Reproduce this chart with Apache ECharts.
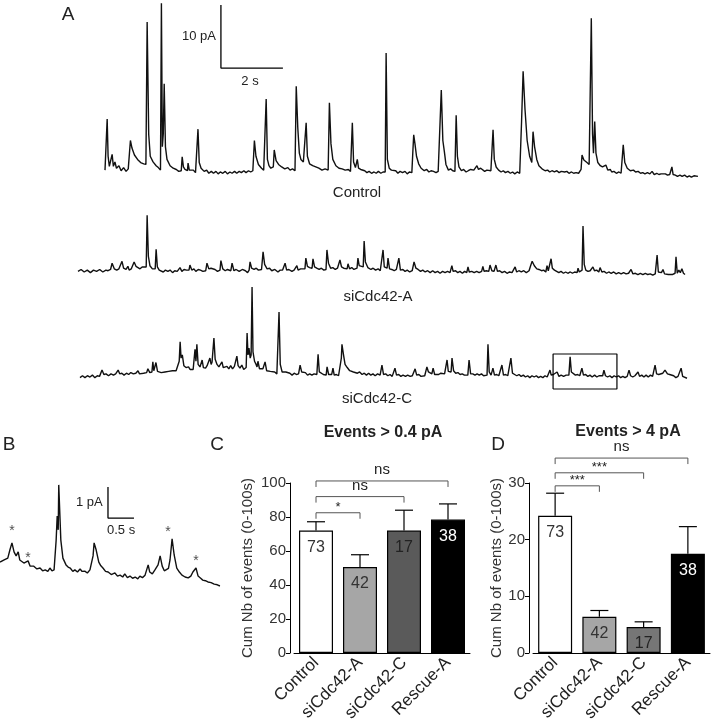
<!DOCTYPE html>
<html><head><meta charset="utf-8">
<script src="https://cdn.jsdelivr.net/npm/echarts@6/dist/echarts.min.js"></script>
<style>html,body{margin:0;padding:0;background:#fff}#c{width:713px;height:724px}</style>
</head><body><div id="c"></div>
<script>
// ---------- DATA ----------
// Traces: [time (s), current (pA, upward deflection)]
const controlTrace = [[0,0.3],[0.05,0.5],[0.07,8.4],[0.1,2.5],[0.14,0.9],[0.19,0.6],[0.23,2.8],[0.27,0.9],[0.32,1.6],[0.37,0.6],[0.45,1.0],[0.52,0.2],[0.6,0.7],[0.68,0.1],[0.75,0.5],[0.78,0.6],[0.82,5.0],[0.87,3.8],[0.95,2.7],[1.05,2.0],[1.15,1.5],[1.25,1.3],[1.32,1.2],[1.36,23.8],[1.41,6.0],[1.46,2.5],[1.55,1.6],[1.65,1.0],[1.72,0.7],[1.79,0.3],[1.82,26.8],[1.85,4.0],[1.88,6.0],[1.91,14.0],[1.95,4.0],[2.0,2.0],[2.1,1.0],[2.2,0.6],[2.3,0.4],[2.38,0.1],[2.46,0.2],[2.49,2.4],[2.53,0.8],[2.58,0.4],[2.62,0.7],[2.66,0.2],[2.68,1.4],[2.72,0.3],[2.78,0.1],[2.85,0.3],[2.92,-0.1],[2.98,0.1],[3.0,6.8],[3.04,1.5],[3.1,0.6],[3.2,0.1],[3.28,0.3],[3.35,-0.2],[3.43,0.1],[3.5,-0.2],[3.58,0.1],[3.65,-0.3],[3.72,0.0],[3.8,-0.2],[3.88,0.1],[3.95,-0.3],[4.03,0.0],[4.1,-0.2],[4.18,0.1],[4.25,-0.2],[4.33,0.1],[4.4,-0.1],[4.48,0.2],[4.55,-0.1],[4.63,0.2],[4.7,0.0],[4.77,0.2],[4.82,5.0],[4.87,2.5],[4.95,1.2],[5.05,0.6],[5.12,0.3],[5.17,0.4],[5.2,11.6],[5.24,2.0],[5.29,1.0],[5.35,0.6],[5.43,0.8],[5.46,3.5],[5.52,1.8],[5.6,1.2],[5.7,0.8],[5.8,0.5],[5.9,0.7],[5.97,0.3],[6.05,0.5],[6.13,0.2],[6.17,13.6],[6.22,7.0],[6.27,3.0],[6.32,2.0],[6.4,1.6],[6.46,1.6],[6.49,7.8],[6.53,2.5],[6.6,1.3],[6.7,1.0],[6.8,0.8],[6.9,0.6],[7.0,0.3],[7.1,0.5],[7.15,0.2],[7.2,0.3],[7.24,11.0],[7.29,4.5],[7.35,2.0],[7.45,1.0],[7.55,0.6],[7.65,0.5],[7.75,0.3],[7.85,0.4],[7.92,0.1],[7.95,0.1],[7.98,7.8],[8.02,1.6],[8.08,0.7],[8.11,0.5],[8.14,2.0],[8.18,0.6],[8.25,0.4],[8.3,0.1],[8.38,0.2],[8.45,-0.1],[8.52,0.1],[8.6,-0.2],[8.68,0.0],[8.75,-0.2],[8.82,0.1],[8.9,-0.2],[8.97,0.0],[9.04,0.0],[9.07,18.9],[9.11,2.0],[9.17,0.6],[9.24,0.3],[9.3,0.0],[9.38,0.2],[9.45,-0.2],[9.52,0.1],[9.6,-0.1],[9.68,0.1],[9.75,-0.3],[9.82,0.0],[9.9,-0.1],[9.93,3.0],[9.96,5.9],[10.0,4.5],[10.05,2.5],[10.12,1.3],[10.2,0.6],[10.3,0.2],[10.38,0.4],[10.45,0.0],[10.52,0.2],[10.6,0.1],[10.68,-0.1],[10.75,0.1],[10.81,0.0],[10.85,13.0],[10.9,5.0],[10.95,3.2],[11.0,1.2],[11.08,0.3],[11.15,0.5],[11.22,0.2],[11.29,0.1],[11.33,9.0],[11.37,2.5],[11.42,0.8],[11.5,0.2],[11.57,0.4],[11.65,0.0],[11.72,0.2],[11.8,0.4],[11.9,0.3],[11.96,0.6],[12.0,1.0],[12.05,0.4],[12.12,0.6],[12.18,0.3],[12.25,0.1],[12.32,0.3],[12.38,0.0],[12.45,0.2],[12.49,0.0],[12.52,6.7],[12.56,2.0],[12.62,0.8],[12.7,0.3],[12.78,0.0],[12.85,0.2],[12.92,-0.1],[13.0,0.1],[13.08,-0.2],[13.15,0.0],[13.22,-0.3],[13.3,0.0],[13.38,-0.2],[13.41,0.0],[13.44,8.0],[13.49,16.0],[13.55,10.0],[13.62,5.0],[13.7,2.5],[13.77,1.5],[13.81,6.4],[13.86,4.0],[13.93,2.0],[14.0,1.0],[14.1,0.5],[14.2,0.2],[14.28,0.3],[14.35,0.0],[14.42,0.2],[14.5,0.0],[14.58,0.2],[14.65,-0.1],[14.72,0.1],[14.77,0.4],[14.83,0.0],[14.9,0.1],[14.97,-0.2],[15.05,0.0],[15.12,-0.2],[15.2,-0.1],[15.28,-0.2],[15.33,0.0],[15.36,0.4],[15.39,2.7],[15.45,1.9],[15.55,1.5],[15.62,1.2],[15.66,1.5],[15.69,24.4],[15.73,6.0],[15.76,3.0],[15.8,8.0],[15.84,3.0],[15.9,1.5],[15.98,1.0],[16.05,0.8],[16.1,0.6],[16.16,1.1],[16.22,0.3],[16.3,0.4],[16.35,0.0],[16.42,0.1],[16.5,-0.2],[16.58,0.0],[16.65,-0.2],[16.69,-0.1],[16.72,4.3],[16.77,1.5],[16.85,0.6],[16.95,0.2],[17.05,0.3],[17.12,0.0],[17.2,0.1],[17.28,-0.2],[17.35,-0.1],[17.42,-0.3],[17.5,-0.1],[17.58,-0.3],[17.65,0.1],[17.72,-0.4],[17.8,-0.2],[17.87,-0.4],[17.94,-0.3],[18.0,-0.5],[18.08,-0.3],[18.15,-0.5],[18.22,-0.4],[18.27,-0.5],[18.29,0.8],[18.33,-0.4],[18.4,-0.5],[18.47,-0.7],[18.55,-0.5],[18.62,-0.7],[18.7,-0.5],[18.78,-0.8],[18.85,-0.6],[18.92,-0.8],[19.0,-0.6],[19.06,-0.9],[19.13,-0.7]];

const siCdc42ATrace = [[0,0.1],[0.1,0.4],[0.2,0.0],[0.3,0.3],[0.4,-0.1],[0.5,0.3],[0.6,0.1],[0.7,0.4],[0.8,0.0],[0.9,0.3],[0.97,0.2],[1.05,0.4],[1.1,1.4],[1.17,0.5],[1.25,0.3],[1.32,0.5],[1.38,0.3],[1.42,1.7],[1.47,0.6],[1.55,0.4],[1.61,0.9],[1.65,0.3],[1.72,0.5],[1.77,0.6],[1.81,1.6],[1.87,0.9],[1.93,0.8],[2.0,0.5],[2.07,0.8],[2.13,0.6],[2.2,0.8],[2.23,9.0],[2.27,2.5],[2.32,1.0],[2.4,0.5],[2.45,0.7],[2.49,0.5],[2.52,3.6],[2.56,0.8],[2.62,0.3],[2.68,0.5],[2.75,0.0],[2.82,0.3],[2.9,0.1],[2.97,0.3],[3.05,-0.1],[3.12,0.2],[3.2,0.1],[3.29,0.7],[3.35,0.1],[3.42,0.4],[3.5,0.3],[3.58,0.3],[3.61,1.1],[3.67,0.3],[3.74,0.5],[3.8,0.1],[3.88,0.4],[3.95,0.3],[4.03,0.1],[4.12,0.2],[4.16,1.4],[4.22,0.5],[4.29,0.6],[4.35,0.3],[4.42,0.4],[4.5,0.1],[4.58,0.3],[4.61,1.8],[4.67,0.5],[4.75,0.2],[4.82,0.4],[4.88,0.1],[4.93,0.2],[4.97,1.4],[5.03,0.2],[5.1,0.4],[5.2,0.1],[5.3,0.4],[5.4,0.2],[5.47,-0.1],[5.52,0.3],[5.55,1.6],[5.6,0.6],[5.68,0.4],[5.75,0.6],[5.82,0.3],[5.88,0.5],[5.92,0.4],[5.97,3.2],[6.02,1.2],[6.1,0.5],[6.18,0.6],[6.25,0.2],[6.35,0.4],[6.45,0.0],[6.52,0.3],[6.6,0.3],[6.65,0.2],[6.68,1.4],[6.73,0.3],[6.8,0.4],[6.9,0.1],[6.97,0.3],[7.03,0.3],[7.06,1.0],[7.1,0.3],[7.18,0.5],[7.25,0.5],[7.32,0.5],[7.35,2.2],[7.4,0.9],[7.47,0.7],[7.55,0.6],[7.58,2.1],[7.63,0.8],[7.7,0.6],[7.78,0.4],[7.85,0.6],[7.93,0.3],[8.0,0.4],[8.03,3.5],[8.08,1.4],[8.15,0.6],[8.22,0.7],[8.3,0.4],[8.37,0.6],[8.42,0.5],[8.45,1.9],[8.5,0.8],[8.57,0.6],[8.63,0.4],[8.68,0.5],[8.71,1.3],[8.76,0.5],[8.83,0.7],[8.9,0.4],[8.95,0.6],[9.0,0.6],[9.03,2.2],[9.07,1.0],[9.13,0.8],[9.2,0.8],[9.23,4.9],[9.27,1.6],[9.35,0.7],[9.45,0.4],[9.52,0.6],[9.6,0.3],[9.68,0.5],[9.75,0.2],[9.8,0.3],[9.84,3.5],[9.88,0.8],[9.93,0.5],[9.97,0.6],[10.0,2.2],[10.05,0.5],[10.12,0.4],[10.2,0.2],[10.27,0.4],[10.32,0.1],[10.35,2.2],[10.4,0.3],[10.48,0.4],[10.55,0.1],[10.62,0.3],[10.7,0.0],[10.78,0.2],[10.84,1.6],[10.9,0.6],[10.97,0.4],[11.05,0.1],[11.12,0.3],[11.2,0.0],[11.28,0.2],[11.36,-0.1],[11.44,0.2],[11.52,-0.1],[11.6,0.1],[11.68,-0.2],[11.76,0.1],[11.84,-0.1],[11.92,0.1],[12.0,-0.1],[12.03,0.0],[12.06,1.0],[12.1,0.1],[12.18,0.2],[12.25,-0.1],[12.32,0.1],[12.4,-0.2],[12.47,0.1],[12.54,-0.1],[12.58,0.8],[12.62,0.0],[12.7,0.1],[12.78,-0.1],[12.86,0.1],[12.94,-0.1],[13.02,0.1],[13.06,0.9],[13.1,0.1],[13.17,0.2],[13.25,0.1],[13.29,1.1],[13.35,0.2],[13.42,0.1],[13.48,1.1],[13.53,0.1],[13.6,0.2],[13.68,-0.1],[13.76,0.1],[13.84,-0.2],[13.92,0.0],[14.0,-0.1],[14.06,0.1],[14.1,0.8],[14.15,0.0],[14.22,0.2],[14.3,0.0],[14.38,0.2],[14.46,-0.1],[14.55,0.2],[14.6,1.0],[14.65,1.7],[14.72,1.0],[14.8,0.5],[14.87,0.4],[14.95,0.2],[15.02,0.3],[15.09,0.0],[15.13,1.0],[15.17,0.2],[15.23,0.3],[15.26,2.1],[15.3,0.6],[15.37,0.3],[15.44,0.1],[15.51,-0.1],[15.58,0.1],[15.66,-0.2],[15.73,0.0],[15.8,-0.2],[15.88,0.0],[15.95,-0.2],[16.02,0.0],[16.1,-0.1],[16.13,0.6],[16.17,0.0],[16.23,0.1],[16.26,0.3],[16.29,7.3],[16.33,1.2],[16.38,0.3],[16.45,0.1],[16.52,0.2],[16.58,-0.1],[16.61,0.8],[16.66,0.2],[16.73,0.3],[16.8,0.0],[16.84,0.7],[16.9,0.0],[16.97,0.1],[17.05,-0.2],[17.12,0.0],[17.2,-0.2],[17.28,0.0],[17.36,-0.3],[17.44,-0.1],[17.52,-0.3],[17.6,-0.1],[17.68,-0.3],[17.76,-0.2],[17.84,0.4],[17.9,-0.3],[17.98,-0.2],[18.06,-0.4],[18.14,-0.2],[18.22,-0.4],[18.3,-0.2],[18.38,-0.4],[18.46,-0.3],[18.54,-0.5],[18.62,-0.3],[18.65,-0.3],[18.68,2.7],[18.72,0.0],[18.77,-0.3],[18.82,-0.1],[18.87,0.4],[18.92,-0.3],[18.98,-0.1],[19.04,-0.4],[19.1,-0.2],[19.17,-0.4],[19.23,-0.3],[19.26,-0.2],[19.29,2.4],[19.33,-0.2],[19.38,0.3],[19.43,-0.1],[19.48,0.5],[19.53,-0.2],[19.58,-0.4]];

const siCdc42CTrace = [[0,-0.1],[0.08,0.2],[0.16,-0.1],[0.24,0.2],[0.32,0.0],[0.4,0.3],[0.48,-0.1],[0.56,0.2],[0.63,0.1],[0.67,0.2],[0.71,1.1],[0.77,0.4],[0.84,0.5],[0.92,0.2],[1.0,0.5],[1.08,0.3],[1.15,0.5],[1.2,0.4],[1.23,1.1],[1.28,0.5],[1.35,0.6],[1.42,0.3],[1.5,0.6],[1.57,0.4],[1.64,0.7],[1.72,0.5],[1.8,0.6],[1.84,0.5],[1.87,1.0],[1.92,0.5],[1.98,0.7],[2.05,0.6],[2.11,0.9],[2.15,0.7],[2.19,1.3],[2.25,0.7],[2.29,0.9],[2.32,0.8],[2.35,2.4],[2.38,1.0],[2.42,1.2],[2.45,2.3],[2.5,0.9],[2.56,0.9],[2.62,0.7],[2.68,1.0],[2.74,0.8],[2.8,1.1],[2.86,0.9],[2.92,1.2],[2.98,1.0],[3.04,1.3],[3.1,1.0],[3.15,1.2],[3.2,2.5],[3.23,5.6],[3.26,3.0],[3.3,3.5],[3.35,1.8],[3.42,1.5],[3.47,1.2],[3.5,1.6],[3.55,1.2],[3.61,1.4],[3.65,1.2],[3.71,4.4],[3.74,2.5],[3.77,5.2],[3.81,2.0],[3.87,1.6],[3.91,1.4],[3.94,2.7],[3.98,1.5],[4.05,1.4],[4.1,1.8],[4.15,1.6],[4.19,3.0],[4.23,2.0],[4.26,2.4],[4.29,2.2],[4.32,6.2],[4.36,2.8],[4.42,2.0],[4.48,1.6],[4.53,1.9],[4.58,2.4],[4.62,1.5],[4.68,1.2],[4.74,1.7],[4.8,1.3],[4.86,1.8],[4.92,1.3],[4.98,1.7],[5.03,1.4],[5.06,3.3],[5.1,1.8],[5.16,1.4],[5.22,1.9],[5.28,1.2],[5.33,1.5],[5.36,1.5],[5.39,7.0],[5.42,3.5],[5.45,4.6],[5.49,3.0],[5.52,3.5],[5.55,14.3],[5.58,4.0],[5.63,2.5],[5.68,2.0],[5.71,1.6],[5.74,2.5],[5.79,1.3],[5.85,1.0],[5.9,1.3],[5.94,1.0],[5.97,2.4],[6.02,1.0],[6.08,0.7],[6.14,0.9],[6.2,0.6],[6.28,0.8],[6.35,0.5],[6.39,0.5],[6.42,10.3],[6.46,2.0],[6.52,0.8],[6.58,0.6],[6.64,0.8],[6.7,0.5],[6.77,0.6],[6.84,0.3],[6.91,0.6],[6.98,0.4],[7.05,0.5],[7.1,1.9],[7.15,0.8],[7.21,0.6],[7.27,0.7],[7.34,0.3],[7.41,0.5],[7.48,0.3],[7.55,0.5],[7.61,0.3],[7.64,0.4],[7.68,3.6],[7.72,0.8],[7.78,0.5],[7.85,0.4],[7.9,0.5],[7.94,0.3],[7.97,1.6],[8.02,0.4],[8.08,0.5],[8.12,0.4],[8.16,1.4],[8.2,0.3],[8.27,0.4],[8.34,0.2],[8.4,0.3],[8.43,3.0],[8.45,5.2],[8.5,3.5],[8.55,2.0],[8.62,1.5],[8.7,1.0],[8.76,1.3],[8.82,0.8],[8.88,1.0],[8.95,0.6],[9.02,0.8],[9.1,0.4],[9.17,0.6],[9.24,0.3],[9.31,0.6],[9.38,0.3],[9.45,0.5],[9.52,0.2],[9.6,0.5],[9.68,0.3],[9.71,0.3],[9.74,1.9],[9.79,0.4],[9.86,0.5],[9.93,0.2],[10.0,0.4],[10.07,0.1],[10.12,0.2],[10.16,1.4],[10.21,0.3],[10.28,0.4],[10.35,0.1],[10.42,0.3],[10.5,0.1],[10.57,0.3],[10.65,0.1],[10.72,0.2],[10.77,0.3],[10.81,1.3],[10.86,0.3],[10.93,0.4],[11.0,0.1],[11.06,0.3],[11.12,0.2],[11.16,0.3],[11.19,1.6],[11.24,0.8],[11.3,0.6],[11.35,0.5],[11.39,1.4],[11.44,0.4],[11.5,0.6],[11.57,0.4],[11.64,0.6],[11.7,0.3],[11.76,0.5],[11.81,0.5],[11.84,2.7],[11.88,0.9],[11.93,0.7],[11.97,0.8],[12.0,3.0],[12.05,1.0],[12.12,0.6],[12.19,0.7],[12.26,0.4],[12.33,0.5],[12.4,0.3],[12.46,0.5],[12.51,0.3],[12.55,2.7],[12.6,0.5],[12.67,0.5],[12.74,0.3],[12.81,0.5],[12.88,0.3],[12.95,0.5],[13.02,0.2],[13.08,0.4],[13.13,0.3],[13.16,5.2],[13.2,0.8],[13.26,0.3],[13.29,0.3],[13.32,1.4],[13.37,0.3],[13.44,0.4],[13.51,0.2],[13.57,0.3],[13.61,1.9],[13.66,0.3],[13.73,0.4],[13.8,0.2],[13.86,0.3],[13.9,3.0],[13.95,0.6],[14.02,0.4],[14.09,0.2],[14.16,0.4],[14.23,0.1],[14.3,0.3],[14.37,0.0],[14.44,0.2],[14.51,-0.1],[14.58,0.2],[14.65,0.0],[14.72,0.2],[14.79,-0.1],[14.86,0.1],[14.93,-0.1],[15.0,0.2],[15.07,0.0],[15.12,0.1],[15.16,1.1],[15.2,0.3],[15.27,0.4],[15.33,0.2],[15.39,0.8],[15.45,0.1],[15.52,0.3],[15.6,0.1],[15.68,0.3],[15.74,0.2],[15.77,0.3],[15.81,3.2],[15.85,0.8],[15.91,0.5],[15.98,0.3],[16.05,0.4],[16.12,0.2],[16.19,1.4],[16.24,0.3],[16.31,0.4],[16.38,0.1],[16.45,0.3],[16.52,0.0],[16.6,0.3],[16.67,0.0],[16.74,0.2],[16.8,0.0],[16.86,0.2],[16.9,1.1],[16.95,0.2],[17.02,0.0],[17.09,0.2],[17.16,-0.1],[17.23,0.2],[17.3,0.0],[17.37,0.2],[17.44,-0.1],[17.51,0.1],[17.58,-0.1],[17.65,0.1],[17.71,1.1],[17.76,0.2],[17.83,0.0],[17.9,0.2],[17.96,0.1],[18.0,0.8],[18.05,0.1],[18.12,0.3],[18.19,0.0],[18.26,0.3],[18.33,0.0],[18.4,0.3],[18.47,0.1],[18.51,0.3],[18.55,1.9],[18.6,0.5],[18.67,0.4],[18.73,0.6],[18.8,0.6],[18.87,1.1],[18.95,0.5],[19.02,0.4],[19.08,0.1],[19.15,0.2],[19.22,-0.1],[19.29,0.1],[19.35,0.1],[19.39,1.4],[19.44,0.1],[19.5,0.0],[19.58,-0.2]];

// Panel B: expanded excerpt of siCdc42-C
const zoomTrace = [[0,0.9],[0.08,0.97],[0.15,1.03],[0.19,1.29],[0.23,1.52],[0.27,1.23],[0.31,1.1],[0.35,1.23],[0.38,0.97],[0.46,0.87],[0.54,0.94],[0.58,0.77],[0.65,0.77],[0.71,0.68],[0.77,0.71],[0.82,0.62],[0.87,0.65],[0.92,0.6],[0.96,0.71],[1.0,0.62],[1.04,0.65],[1.08,1.61],[1.1,2.39],[1.12,1.94],[1.13,3.39],[1.17,1.61],[1.21,1.03],[1.27,0.81],[1.31,0.74],[1.35,0.71],[1.4,0.6],[1.44,0.65],[1.49,0.58],[1.54,0.68],[1.58,0.6],[1.63,0.61],[1.68,0.55],[1.73,0.65],[1.79,1.1],[1.81,1.52],[1.85,1.29],[1.9,0.9],[1.94,0.78],[1.98,0.71],[2.03,0.6],[2.08,0.58],[2.14,0.5],[2.21,0.55],[2.26,0.45],[2.31,0.48],[2.36,0.42],[2.4,0.52],[2.45,0.4],[2.5,0.45],[2.55,0.38],[2.6,0.42],[2.65,0.36],[2.69,0.45],[2.74,0.4],[2.79,0.48],[2.85,0.81],[2.88,0.58],[2.93,0.52],[2.98,0.65],[3.04,0.81],[3.08,1.1],[3.12,0.77],[3.16,0.62],[3.19,0.58],[3.24,0.7],[3.27,0.97],[3.31,1.65],[3.35,1.13],[3.4,0.71],[3.45,0.58],[3.5,0.48],[3.56,0.42],[3.62,0.39],[3.67,0.45],[3.71,0.58],[3.77,0.71],[3.81,0.45],[3.86,0.38],[3.9,0.32],[3.95,0.3],[4.0,0.26],[4.06,0.24],[4.12,0.19],[4.18,0.17],[4.23,0.13]];
const zoomEventMarks = [[0.23,1.9],[0.54,1.03],[3.23,1.87],[3.77,0.93]];

// Scale bars and the boxed excerpt (data units)
const scaleBarA = {t: 3.74, i: 16.5, dt: 2, di: 10};
const scaleBarB = {t: 2.077, i: 2.32, dt: 0.5, di: 1};
const zoomWindow = {t0: 15.26, t1: 17.32, lo: -1.9, hi: 3.65};

// Bar charts
const categories = ['Control', 'siCdc42-A', 'siCdc42-C', 'Rescue-A'];
const nCells = [73, 42, 17, 38];
const eventsSmall = [72, 50.6, 72, 78.5];
const eventsSmallUpper = [77.2, 57.8, 84, 87.7];
const eventsLarge = [24.2, 6.4, 4.6, 17.5];
const eventsLargeUpper = [28.2, 7.5, 5.5, 22.3];
const signifSmall = [[0, 1, 82.5], [0, 2, 92], [0, 3, 101.2]];
const signifSmallText = ['*', 'ns', 'ns'];
const signifLarge = [[0, 1, 29.5], [0, 2, 31.8], [0, 3, 34.4]];
const signifLargeText = ['***', '***', 'ns'];

// ---------- CHART ----------
const FONT = '"Liberation Sans", Arial, Helvetica, sans-serif';
const chart = echarts.init(document.getElementById('c'), null, {renderer: 'canvas'});

const colorsC = ['#ffffff', '#a6a6a6', '#5a5a5a', '#000000'];
const colorsD = ['#ffffff', '#a6a6a6', '#767676', '#000000'];
const labelColors = ['#333', '#333', '#222', '#ffffff'];

function hiddenValueAxis(gi, min, max) {
  return {type: 'value', gridIndex: gi, min: min, max: max, show: false};
}
function traceSeries(data, xi) {
  return {type: 'line', xAxisIndex: xi, yAxisIndex: xi, data: data, showSymbol: false, symbol: 'none',
    lineStyle: {color: '#111', width: 1.4}, silent: true, animation: false, z: 3};
}
function scaleBarSeries(sb, xi) {
  return {type: 'line', xAxisIndex: xi, yAxisIndex: xi, showSymbol: false, symbol: 'none', animation: false,
    data: [[sb.t, sb.i + sb.di], [sb.t, sb.i], [sb.t + sb.dt, sb.i]],
    lineStyle: {color: '#000', width: 1.3}};
}
function barSeries(vals, colors, ai) {
  return {type: 'bar', xAxisIndex: ai, yAxisIndex: ai, barWidth: 34, animation: false,
    data: vals.map((v, k) => ({value: v, itemStyle: {color: colors[k], borderColor: '#000', borderWidth: 1.2},
      label: {color: labelColors[k]}})),
    label: {show: true, position: 'insideTop', distance: 9, fontSize: 16, fontFamily: FONT,
      formatter: p => String(nCells[p.dataIndex])}, z: 2};
}
function errSeries(vals, upper, ai) {
  return {type: 'custom', xAxisIndex: ai, yAxisIndex: ai, clip: false, animation: false, z: 5,
    data: vals.map((v, k) => [k, v, upper[k]]),
    encode: {x: 0, y: [1, 2]},
    renderItem: (params, api) => {
      const b = api.coord([api.value(0), api.value(1)]);
      const t = api.coord([api.value(0), api.value(2)]);
      const st = {stroke: '#000', lineWidth: 1.2};
      return {type: 'group', children: [
        {type: 'line', shape: {x1: b[0], y1: b[1], x2: t[0], y2: t[1]}, style: st},
        {type: 'line', shape: {x1: t[0] - 9, y1: t[1], x2: t[0] + 9, y2: t[1]}, style: st}
      ]};
    }};
}
function bracketSeries(list, texts, ai) {
  return {type: 'custom', xAxisIndex: ai, yAxisIndex: ai, clip: false, animation: false, z: 5,
    data: list, encode: {x: 0, y: 2},
    renderItem: (params, api) => {
      const a = api.coord([api.value(0), api.value(2)]);
      const b = api.coord([api.value(1), api.value(2)]);
      const txt = texts[params.dataIndex];
      const star = txt.indexOf('*') >= 0;
      return {type: 'group', children: [
        {type: 'polyline', shape: {points: [[a[0], a[1] + 6], [a[0], a[1]], [b[0], b[1]], [b[0], b[1] + 6]]},
          style: {stroke: '#555', lineWidth: 1, fill: null}},
        {type: 'text', x: (a[0] + b[0]) / 2, y: a[1] - (star ? 5 : 11),
          style: {text: txt, fill: '#222', fontSize: star ? 13 : 15, fontFamily: FONT,
            align: 'center', verticalAlign: 'middle', textAlign: 'center', textVerticalAlign: 'middle'}}
      ]};
    }};
}
function barYAxis(gi, max, interval, gap) {
  return {type: 'value', gridIndex: gi, min: 0, max: max, interval: interval, offset: 4,
    axisLine: {show: true, lineStyle: {color: '#000', width: 1}},
    axisTick: {show: true, length: 4, lineStyle: {color: '#000'}},
    splitLine: {show: false},
    axisLabel: {fontSize: 15, fontFamily: FONT, color: '#333', margin: 4},
    name: 'Cum Nb of events (0-100s)', nameLocation: 'middle', nameGap: gap, nameRotate: 90,
    nameTextStyle: {fontSize: 15, fontFamily: FONT, color: '#333'}};
}
function barXAxis(gi) {
  return {type: 'category', gridIndex: gi, data: categories,
    axisLine: {show: true, lineStyle: {color: '#000', width: 1}},
    axisTick: {show: false},
    axisLabel: {rotate: 45, fontSize: 17, fontFamily: FONT, color: '#222', margin: 7, interval: 0}};
}
function txt(text, x, y, size, align, weight) {
  return {type: 'text', x: x, y: y, silent: true,
    style: {text: text, fill: '#222', fontSize: size, fontFamily: FONT, fontWeight: weight || 'normal',
      align: align, verticalAlign: 'middle', textAlign: align, textVerticalAlign: 'middle'}};
}

const option = {
  backgroundColor: '#ffffff',
  animation: false,
  grid: [
    {left: 105, top: 0, width: 592, height: 180, outerBoundsMode: 'none'},
    {left: 78, top: 205, width: 607, height: 75, outerBoundsMode: 'none'},
    {left: 80, top: 282, width: 607, height: 110, outerBoundsMode: 'none'},
    {left: 0, top: 470, width: 222, height: 125, outerBoundsMode: 'none'},
    {left: 294, top: 483, width: 176, height: 170, outerBoundsMode: 'none'},
    {left: 533, top: 483, width: 177, height: 170, outerBoundsMode: 'none'}
  ],
  xAxis: [
    hiddenValueAxis(0, 0, 19.1),
    hiddenValueAxis(1, 0, 19.58),
    hiddenValueAxis(2, 0, 19.58),
    hiddenValueAxis(3, 0, 4.27),
    barXAxis(4),
    barXAxis(5)
  ],
  yAxis: [
    hiddenValueAxis(0, -1.27, 27.3),
    hiddenValueAxis(1, -1.27, 10.63),
    hiddenValueAxis(2, -2.38, 15.08),
    hiddenValueAxis(3, -0.16, 3.87),
    barYAxis(4, 100, 20, 35),
    barYAxis(5, 30, 10, 25)
  ],
  series: [
    traceSeries(controlTrace, 0),
    scaleBarSeries(scaleBarA, 0),
    traceSeries(siCdc42ATrace, 1),
    traceSeries(siCdc42CTrace, 2),
    {type: 'line', xAxisIndex: 2, yAxisIndex: 2, showSymbol: false, symbol: 'none', animation: false,
      data: [[zoomWindow.t0, zoomWindow.lo], [zoomWindow.t0, zoomWindow.hi], [zoomWindow.t1, zoomWindow.hi],
             [zoomWindow.t1, zoomWindow.lo], [zoomWindow.t0, zoomWindow.lo]],
      lineStyle: {color: '#000', width: 1.2}},
    traceSeries(zoomTrace, 3),
    scaleBarSeries(scaleBarB, 3),
    {type: 'scatter', xAxisIndex: 3, yAxisIndex: 3, data: zoomEventMarks, symbolSize: 0, animation: false,
      label: {show: true, position: 'inside', formatter: '*', fontSize: 14, fontFamily: FONT, color: '#222'}},
    barSeries(eventsSmall, colorsC, 4),
    errSeries(eventsSmall, eventsSmallUpper, 4),
    bracketSeries(signifSmall, signifSmallText, 4),
    barSeries(eventsLarge, colorsD, 5),
    errSeries(eventsLarge, eventsLargeUpper, 5),
    bracketSeries(signifLarge, signifLargeText, 5)
  ],
  graphic: [
    txt('A', 68, 15, 19, 'center'),
    txt('10 pA', 216, 36, 13, 'right'),
    txt('2 s', 250, 81, 13, 'center'),
    txt('Control', 357, 193, 15, 'center'),
    txt('siCdc42-A', 378, 297, 15, 'center'),
    txt('siCdc42-C', 377, 399, 15, 'center'),
    txt('B', 9, 445, 19, 'center'),
    txt('1 pA', 76, 502, 13, 'left'),
    txt('0.5 s', 107, 530, 13, 'left'),
    txt('C', 217, 445, 19, 'center'),
    txt('D', 498, 445, 19, 'center'),
    txt('Events > 0.4 pA', 383, 433, 16, 'center', 'bold'),
    txt('Events > 4 pA', 628, 432, 16, 'center', 'bold')
  ]
};
chart.setOption(option);
</script></body></html>
